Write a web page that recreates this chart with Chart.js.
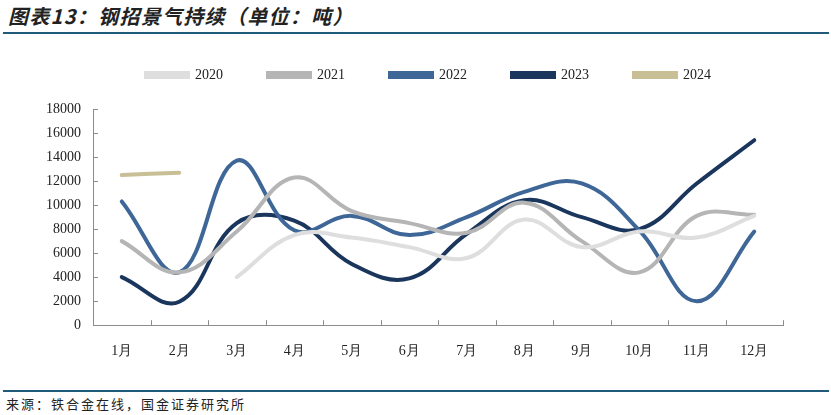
<!DOCTYPE html>
<html>
<head>
<meta charset="utf-8">
<script src="https://cdn.jsdelivr.net/npm/chart.js@4"></script>
<style>
  html, body { margin: 0; padding: 0; background: #fff; }
  body { width: 831px; height: 415px; position: relative; overflow: hidden; }
  .title {
    position: absolute; left: 8px; top: 1px;
    font-family: "Noto Sans CJK SC", sans-serif; font-size: 20px; font-weight: bold; font-style: italic;
    color: #222; letter-spacing: 1.3px;
  }
  .rule { position: absolute; left: 3px; width: 826px; height: 2px; background: #1f5a7a; }
  .source {
    position: absolute; left: 6px; top: 394px;
    font-family: "Noto Sans CJK SC", sans-serif; font-size: 13px; color: #222; letter-spacing: 2px;
  }
  #box { position: absolute; left: 0; top: 40px; width: 831px; height: 338px; }
</style>
</head>
<body>
<div class="title">图表13：钢招景气持续（单位：吨）</div>
<div class="rule" style="top:32px"></div>
<div id="box"><canvas id="myChart"></canvas></div>
<div class="rule" style="top:390px"></div>
<div class="source">来源：铁合金在线，国金证券研究所</div>
<script>
const months = ['1月','2月','3月','4月','5月','6月','7月','8月','9月','10月','11月','12月']
const years = ['2020','2021','2022','2023','2024']
const s2020 = [null, null, 4000, 7500, 7300, 6500, 5600, 8800, 6500, 7800, 7300, 9100]
const s2021 = [7000, 4400, 7800, 12300, 9500, 8500, 7700, 10200, 7000, 4400, 9100, 9200]
const s2022 = [10300, 4400, 13700, 7900, 9100, 7500, 9000, 11100, 11800, 7900, 2000, 7800]
const s2023 = [4000, 1950, 8500, 8700, 5100, 3900, 7600, 10400, 9000, 8000, 11800, 15400]
const s2024 = [12500, 12700, null, null, null, null, null, null, null, null, null, null]
const colors = ['#dedede', '#b5b5b5', '#3e6697', '#1b365d', '#c9bf97']

const yTicks = [0, 2000, 4000, 6000, 8000, 10000, 12000, 14000, 16000, 18000]

// inward tick marks like the original
const innerTicks = {
    id: 'innerTicks',
    afterDraw(chart) {
        const ctx = chart.ctx
        const x = chart.scales.x
        const y = chart.scales.y
        ctx.save()
        ctx.strokeStyle = '#8c8c8c'
        ctx.lineWidth = 1
        ctx.beginPath()
        for (let i = 0; i <= months.length; i++) {
            let px = Math.round(x.left + (x.right - x.left) * i / months.length) + 0.5
            ctx.moveTo(px, y.bottom)
            ctx.lineTo(px, y.bottom - 5)
        }
        for (let v of yTicks) {
            let py = Math.round(y.getPixelForValue(v)) + 0.5
            ctx.moveTo(x.left, py)
            ctx.lineTo(x.left + 5, py)
        }
        ctx.stroke()
        ctx.restore()
    }
}

// legend: fixed height, then nudged to where the original sits
const legendPlace = {
    id: 'legendPlace',
    beforeInit(chart) {
        const fit = chart.legend.fit
        chart.legend.fit = function () {
            fit.bind(chart.legend)()
            this.height = 69
        }
    },
    afterLayout(chart) {
        const lg = chart.legend
        lg.left += 37
        lg.right += 37
        lg.top -= 17
        lg.bottom -= 17
    }
}

const ctx = document.getElementById('myChart')
const chart = new Chart(ctx, {
    type: 'line',
    data: {
        labels: months,
        datasets: [s2020, s2021, s2022, s2023, s2024].map((d, i) => ({
            label: years[i],
            data: d,
            borderColor: colors[i],
            backgroundColor: colors[i],
            borderWidth: 4,
            pointRadius: 0,
            tension: 0.4,
            borderCapStyle: 'round',
            spanGaps: false
        }))
    },
    options: {
        responsive: true,
        maintainAspectRatio: false,
        animation: false,
        layout: { padding: { left: 0, right: 48, top: 0, bottom: 0 } },
        plugins: {
            tooltip: { enabled: false },
            legend: {
                position: 'top',
                labels: {
                    boxWidth: 42,
                    boxHeight: 4,
                    padding: 45,
                    color: '#222',
                    font: { family: 'Liberation Serif', size: 14 }
                }
            }
        },
        scales: {
            x: {
                offset: true,
                grid: { display: false, drawTicks: false },
                border: { color: '#8c8c8c' },
                ticks: {
                    color: '#222',
                    padding: 18,
                    font: { family: 'Liberation Serif', size: 14 }
                }
            },
            y: {
                min: 0,
                max: 18000,
                afterFit(scale) { scale.width = 93 },
                grid: { display: false, drawTicks: false },
                border: { color: '#8c8c8c' },
                ticks: {
                    stepSize: 2000,
                    color: '#222',
                    padding: 12,
                    font: { family: 'Liberation Serif', size: 14 },
                    callback: (v) => String(v)
                }
            }
        }
    },
    plugins: [innerTicks, legendPlace]
})
</script>
</body>
</html>
